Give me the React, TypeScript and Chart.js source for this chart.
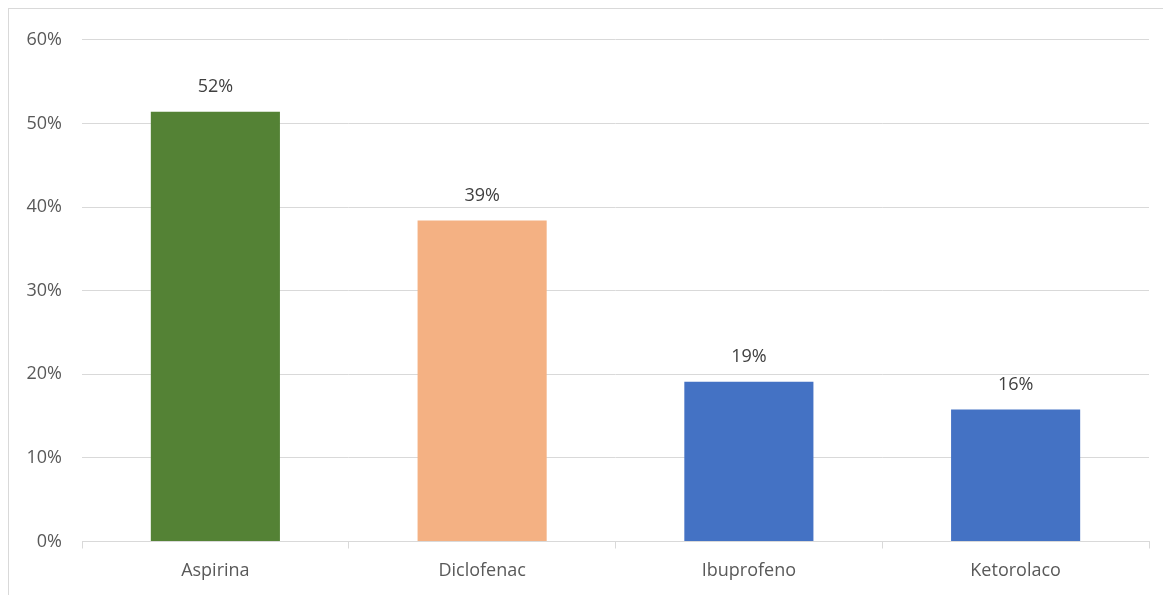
import React, { useEffect, useRef } from "react";
import { Chart, registerables } from "chart.js";

Chart.register(...registerables);

const categories = ["Aspirina", "Diclofenac", "Ibuprofeno", "Ketorolaco"];
const values = [51.4, 38.4, 19.1, 15.8];
const valueLabels = ["52%", "39%", "19%", "16%"];
const barColors = ["#548235", "#F4B183", "#4472C4", "#4472C4"];
const yTicks = [0, 10, 20, 30, 40, 50, 60];

const FONT = "'Open Sans', 'Noto Sans', sans-serif";

const dataLabelPlugin = {
  id: "dataLabels",
  afterDatasetsDraw(chart: any) {
    const ctx = chart.ctx;
    const meta = chart.getDatasetMeta(0);
    ctx.save();
    ctx.font = `18px ${FONT}`;
    ctx.fillStyle = "#404040";
    ctx.textAlign = "center";
    ctx.textBaseline = "middle";
    meta.data.forEach((bar: any, i: number) => {
      ctx.fillText(valueLabels[i], bar.x, bar.y - 25);
    });
    ctx.restore();
  },
};

export default function App() {
  const ref = useRef<HTMLCanvasElement | null>(null);

  useEffect(() => {
    document.documentElement.style.overflow = "hidden";
    document.body.style.overflow = "hidden";
    if (!ref.current) return;
    const chart = new Chart(ref.current, {
      type: "bar",
      data: {
        labels: categories,
        datasets: [
          {
            data: values,
            backgroundColor: barColors,
            borderWidth: 0,
            categoryPercentage: 1,
            barPercentage: 0.484,
          },
        ],
      },
      options: {
        animation: false,
        responsive: false,
        maintainAspectRatio: false,
        layout: { padding: { left: 0, right: 22, top: 29, bottom: 0 } },
        plugins: {
          legend: { display: false },
          tooltip: { enabled: false },
        },
        scales: {
          x: {
            grid: {
              display: true,
              drawOnChartArea: false,
              drawTicks: true,
              tickLength: 7,
              color: "#d9d9d9",
              offset: true,
            },
            border: { display: true, color: "#d9d9d9", width: 1 },
            ticks: {
              color: "#595959",
              font: { family: FONT, size: 18 },
              padding: 12,
            },
            afterFit(scale: any) {
              scale.height = 53.5;
            },
          },
          y: {
            min: 0,
            max: 60,
            afterBuildTicks(scale: any) {
              scale.ticks = yTicks.map((v) => ({ value: v }));
            },
            grid: {
              color: "#d9d9d9",
              drawTicks: false,
              lineWidth: 1,
            },
            border: { display: false },
            ticks: {
              color: "#595959",
              font: { family: FONT, size: 18 },
              padding: 20,
              callback: (v: any) => `${v}%`,
            },
            afterFit(scale: any) {
              scale.width = 73;
            },
          },
        },
      },
      plugins: [dataLabelPlugin],
    });
    return () => chart.destroy();
  }, []);

  return (
    <div
      style={{
        width: 1200,
        height: 600,
        borderTop: "1px solid #d9d9d9",
        borderLeft: "1px solid #d9d9d9",
        boxSizing: "border-box",
        overflow: "hidden",
      }}
    >
      <canvas ref={ref} width={1162} height={586} style={{ display: "block" }} />
    </div>
  );
}
